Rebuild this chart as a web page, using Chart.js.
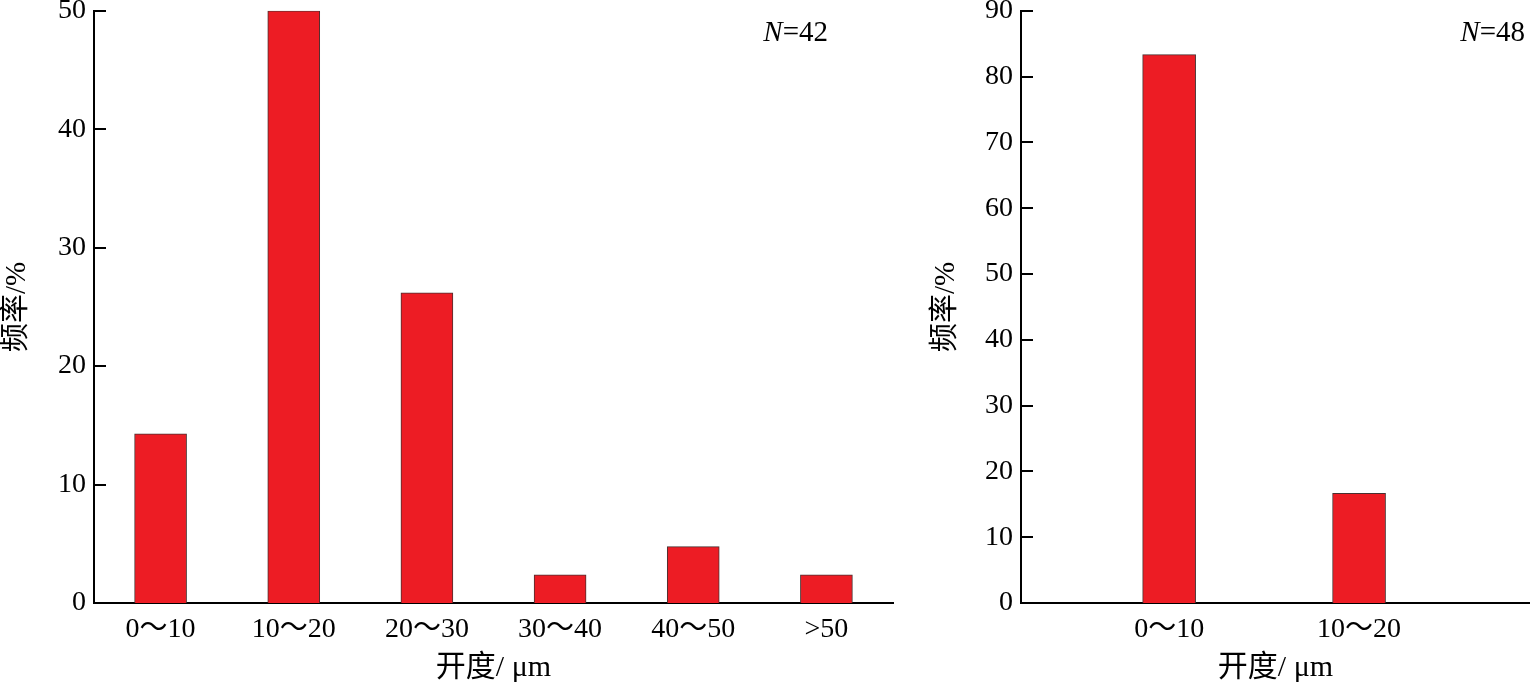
<!DOCTYPE html>
<html>
<head>
<meta charset="utf-8">
<script src="https://cdn.jsdelivr.net/npm/chart.js@4"></script>
<style>
  html, body { margin: 0; padding: 0; background: #fff; }
  #wrapLeft { position: absolute; left: 0; top: 0; width: 920px; height: 686px; }
  #wrapRight { position: absolute; left: 920px; top: 0; width: 610px; height: 686px; }
</style>
</head>
<body>
<div id="wrapLeft"><canvas id="leftChart"></canvas></div>
<div id="wrapRight"><canvas id="rightChart"></canvas></div>
<script>
// datos del panel izquierdo
const leftCats = ['0～10', '10～20', '20～30', '30～40', '40～50', '>50'];
const leftVals = [14.29, 50, 26.19, 2.38, 4.76, 2.38];
const leftTicks = [0, 10, 20, 30, 40, 50];

// datos del panel derecho
const rightCats = ['0～10', '10～20'];
const rightPos = [1, 2];
const rightVals = [83.33, 16.67];
const rightTicks = [0, 10, 20, 30, 40, 50, 60, 70, 80, 90];

const xTitle = '开度/ μm';
const yTitle = '频率/%';

const serif = '"Liberation Serif", "Noto Sans CJK SC", serif';
const barRed = '#ed1c24';

Chart.defaults.color = '#000';
Chart.defaults.font.family = serif;
Chart.defaults.font.size = 28;

// marcas hacia dentro del eje Y + etiqueta N
const innerTicks = {
    id: 'innerTicks',
    afterDatasetsDraw(chart, args, opts) {
        const ctx = chart.ctx;
        const y = chart.scales.y;
        const left = chart.chartArea.left;
        ctx.save();
        ctx.strokeStyle = '#000';
        ctx.lineWidth = 2;
        y.ticks.forEach(t => {
            const py = Math.round(y.getPixelForValue(t.value));
            ctx.beginPath();
            ctx.moveTo(left, py);
            ctx.lineTo(left + 12, py);
            ctx.stroke();
        });
        // N=..
        const tx = chart.chartArea.right - opts.nRight;
        const ty = 33;
        ctx.textBaseline = 'middle';
        ctx.textAlign = 'right';
        ctx.font = '29px "Liberation Serif"';
        const rest = '=' + opts.n;
        ctx.fillStyle = '#000';
        ctx.fillText(rest, tx, ty);
        const w = ctx.measureText(rest).width;
        ctx.font = 'italic 29px "Liberation Serif"';
        ctx.fillText('N', tx - w, ty);
        ctx.restore();
    }
};

const yScale = (ticks, max, titlePad, width) => ({
    min: 0,
    max: max,
    afterBuildTicks: s => { s.ticks = ticks.map(v => ({ value: v })); },
    afterFit: s => { s.width = width; },
    grid: { display: false, drawTicks: false },
    border: { display: true, color: '#000', width: 2 },
    ticks: { padding: 8, font: { size: 28, lineHeight: 0.2 } },
    title: {
        display: true,
        text: yTitle,
        font: { family: serif, size: 29 },
        padding: { top: titlePad, bottom: 0 }
    }
});

const xTitleOpts = {
    display: true,
    text: xTitle,
    font: { family: serif, size: 30 },
    padding: { top: 0, bottom: 0 }
};

new Chart(document.getElementById('leftChart'), {
    type: 'bar',
    data: {
        labels: leftCats,
        datasets: [{
            data: leftVals,
            backgroundColor: barRed,
            borderColor: '#4a3030',
            borderWidth: 1,
            barThickness: 52
        }]
    },
    options: {
        responsive: true,
        maintainAspectRatio: false,
        animation: false,
        layout: { padding: { top: 10, right: 27, left: 0, bottom: 0 } },
        plugins: {
            legend: { display: false },
            tooltip: { enabled: false },
            innerTicks: { n: 42, nRight: 65 }
        },
        scales: {
            x: {
                afterFit: s => { s.height = 83; },
                grid: { display: false, drawTicks: false },
                border: { display: true, color: '#000', width: 2 },
                ticks: { padding: 10, font: { size: 28 } },
                title: xTitleOpts
            },
            y: yScale(leftTicks, 50, 0, 94)
        }
    },
    plugins: [innerTicks]
});

new Chart(document.getElementById('rightChart'), {
    type: 'bar',
    data: {
        datasets: [{
            data: rightPos.map((p, i) => ({ x: p, y: rightVals[i] })),
            backgroundColor: barRed,
            borderColor: '#4a3030',
            borderWidth: 1,
            barThickness: 53
        }]
    },
    options: {
        responsive: true,
        maintainAspectRatio: false,
        animation: false,
        layout: { padding: { top: 10, right: 0, left: 0, bottom: 0 } },
        plugins: {
            legend: { display: false },
            tooltip: { enabled: false },
            innerTicks: { n: 48, nRight: 5 }
        },
        scales: {
            x: {
                type: 'linear',
                min: 0.22,
                max: 2.9,
                offset: false,
                afterBuildTicks: s => { s.ticks = rightPos.map(v => ({ value: v })); },
                afterFit: s => { s.height = 83; },
                grid: { display: false, drawTicks: false },
                border: { display: true, color: '#000', width: 2 },
                ticks: {
                    padding: 10,
                    font: { size: 28 },
                    callback: v => rightCats[rightPos.indexOf(v)]
                },
                title: xTitleOpts
            },
            y: yScale(rightTicks, 90, 9, 101)
        }
    },
    plugins: [innerTicks]
});
</script>
</body>
</html>
